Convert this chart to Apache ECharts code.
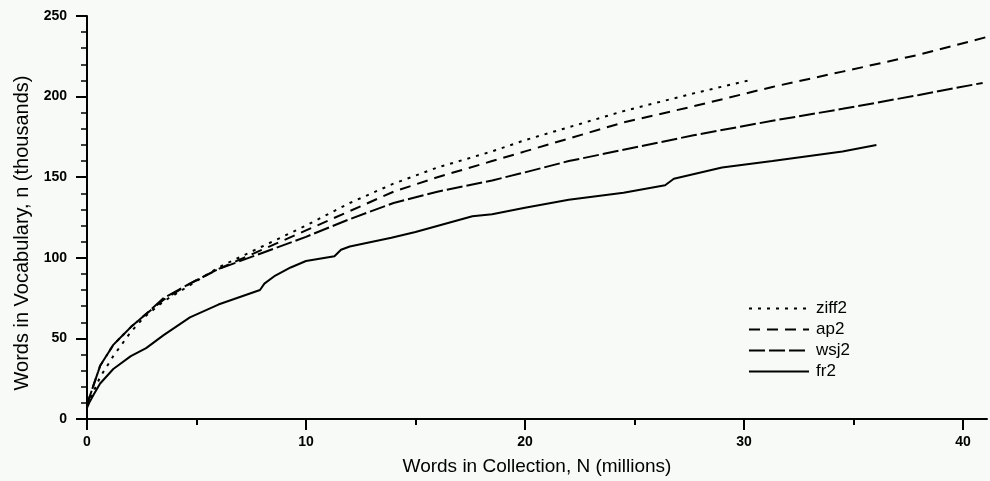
<!DOCTYPE html>
<html><head><meta charset="utf-8">
<script src="https://cdn.jsdelivr.net/npm/echarts@6/dist/echarts.min.js"></script>
<style>html,body{margin:0;padding:0;background:#f7faf7}#c{width:990px;height:481px}</style>
</head><body><div id="c"></div>
<script>
var seriesNames = ['ziff2', 'ap2', 'wsj2', 'fr2'];
var xTicks = [0, 10, 20, 30, 40];
var xMinorTicks = [5, 15, 25, 35];

var ziffX = [0, 0.1, 0.3, 0.6, 1.2, 2, 2.6, 3.5, 4.7, 6, 8, 10, 12, 14, 16, 18.5, 20, 22, 24.5, 27.7, 30.2];
var ziffY = [8, 11, 17, 26, 39, 54, 63, 73, 83, 94, 107, 120, 134, 146, 156, 166, 173, 181, 191, 202, 210];

var ap2X = [0, 0.1, 0.3, 0.6, 1.2, 2, 2.6, 3.5, 4.7, 6, 8, 10, 12, 14, 16, 18.5, 20, 22, 24.5, 27.7, 31.3, 34.5, 38, 41.1];
var ap2Y = [8, 13, 21, 33, 46, 57, 64, 74, 84, 93, 105, 117, 129, 141, 150, 160, 166, 174, 184, 194, 206, 215.5, 226, 237];

var wsjX = [0, 0.1, 0.3, 0.6, 1.2, 2, 2.6, 3.5, 4.7, 6, 8, 10, 12, 14, 16, 17.6, 18.5, 20, 22, 24.5, 27.7, 31.3, 34.5, 38, 40.9];
var wsjY = [8, 13, 21, 33, 46, 57, 64, 75, 84, 93, 103, 113, 124, 134, 141, 145.5, 148, 153, 160, 167, 176, 185, 192.4, 201, 208.5];

var frX = [0, 0.1, 0.3, 0.6, 1.2, 2, 2.7, 3.5, 4.7, 6, 7.9, 8.1, 8.6, 9.3, 10, 11.3, 11.6, 12, 13.9, 15, 17.6, 18.5, 20, 22, 24.5, 26.4, 26.8, 29, 31.3, 34.5, 36.05];
var frY = [7, 10, 15, 22, 31, 39, 44, 52, 63, 71, 80, 84, 89, 94, 98, 101, 105, 107, 112.4, 116, 125.8, 127, 131, 136, 140.3, 145, 149, 156, 160, 166, 170];

function zip(xs, ys) { return xs.map(function (x, i) { return [x, ys[i]]; }); }

var dashTypes = [[3, 6], [11, 7], [16, 4], 'solid'];
var dataSets = [zip(ziffX, ziffY), zip(ap2X, ap2Y), zip(wsjX, wsjY), zip(frX, frY)];

var chart = echarts.init(document.getElementById('c'));
var lbl = { color: '#000', fontFamily: 'Liberation Sans', fontWeight: 'bold', fontSize: 14 };
chart.setOption({
  backgroundColor: '#f7faf7',
  animation: false,
  grid: { left: 87, right: 3, top: 16, bottom: 61 },
  legend: {
    orient: 'vertical', left: 743, top: 295,
    itemWidth: 60, itemHeight: 14, itemGap: 4,
    data: seriesNames,
    itemStyle: { opacity: 0 },
    textStyle: { color: '#000', fontFamily: 'Liberation Sans', fontSize: 17, padding: [0, 0, 0, 2] }
  },
  xAxis: [{
    type: 'value', min: 0, max: 41.1, interval: 10,
    name: 'Words in Collection, N (millions)', nameLocation: 'middle', nameGap: 38,
    nameTextStyle: { color: '#000', fontFamily: 'Liberation Sans', fontSize: 19 },
    axisLine: { show: true, lineStyle: { color: '#000', width: 2 } },
    axisTick: { show: true, length: 11, lineStyle: { color: '#000', width: 2 }, customValues: xTicks },
    axisLabel: Object.assign({ margin: 16, customValues: xTicks }, lbl),
    splitLine: { show: false }
  }, {
    type: 'value', min: 0, max: 41.1, position: 'bottom',
    axisLine: { show: false },
    axisTick: { show: true, length: 6, lineStyle: { color: '#000', width: 2 }, customValues: xMinorTicks },
    axisLabel: { show: false },
    splitLine: { show: false }
  }],
  yAxis: {
    type: 'value', min: 0, max: 250, interval: 50,
    axisLine: { show: true, lineStyle: { color: '#000', width: 2 } },
    axisTick: { show: true, length: 11, lineStyle: { color: '#000', width: 2 } },
    minorTick: { show: true, splitNumber: 5, length: 6, lineStyle: { color: '#000', width: 1.5 } },
    axisLabel: Object.assign({ margin: 20 }, lbl),
    splitLine: { show: false }
  },
  graphic: [{
    type: 'text', x: 22, y: 233, rotation: Math.PI / 2,
    style: { text: 'Words in Vocabulary, n (thousands)', fill: '#000', font: '20px "Liberation Sans"', textAlign: 'center', textVerticalAlign: 'middle' }
  }],
  series: seriesNames.map(function (n, i) {
    return {
      name: n, type: 'line', xAxisIndex: 0, symbol: 'none', showSymbol: false,
      data: dataSets[i],
      lineStyle: { color: '#000', width: 2, type: dashTypes[i] },
      itemStyle: { color: '#000' }
    };
  })
});
</script></body></html>
